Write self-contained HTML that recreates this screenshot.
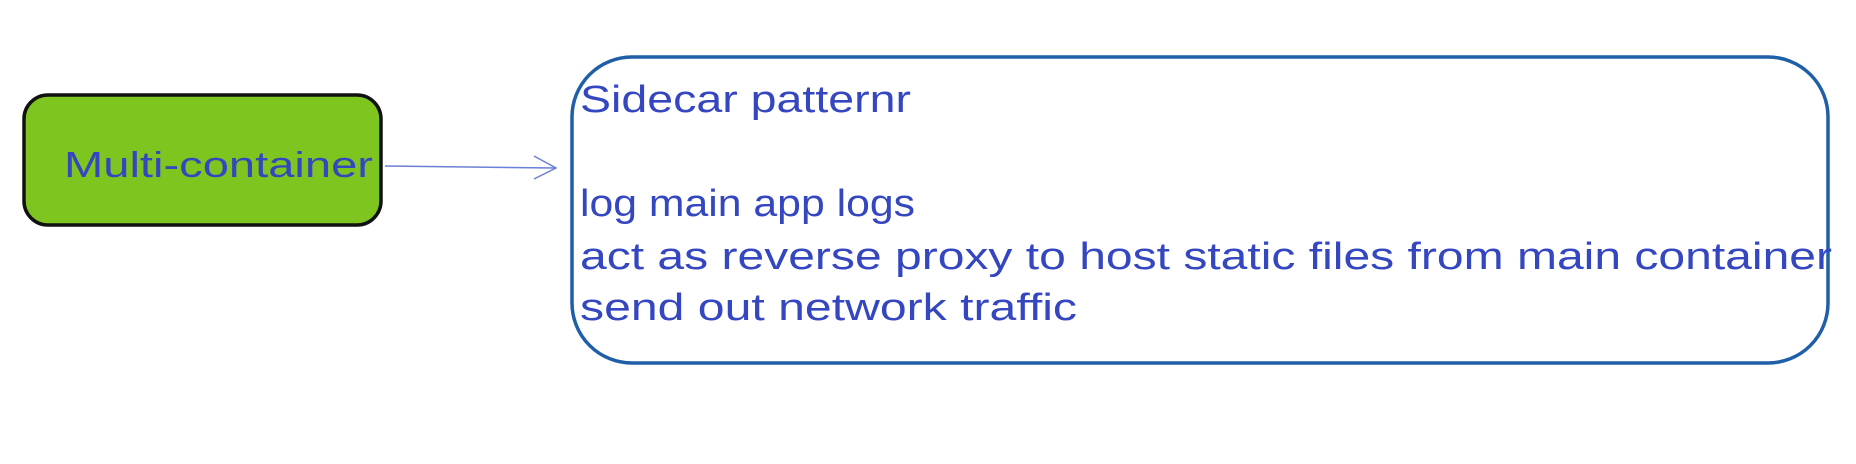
<!DOCTYPE html>
<html><head><style>
html,body{margin:0;padding:0;background:#fff;width:1856px;height:464px;overflow:hidden}
text{font-family:"Liberation Sans",sans-serif;fill:#3446c0}
</style></head><body>
<svg width="1856" height="464" viewBox="0 0 1856 464" xmlns="http://www.w3.org/2000/svg">
<rect x="24" y="95" width="357" height="130" rx="24" fill="#7ec61f" stroke="#111" stroke-width="3.5"/>
<text x="64" y="177" font-size="36" textLength="309" lengthAdjust="spacingAndGlyphs">Multi-container</text>
<line x1="385" y1="166" x2="556" y2="168" stroke="#6b7fd6" stroke-width="1.5"/>
<path d="M534 156 L556 168 L534 179" fill="none" stroke="#6b7fd6" stroke-width="1.5"/>
<rect x="572" y="57" width="1256" height="306" rx="60" fill="none" stroke="#1f5fa8" stroke-width="3.5"/>
<text x="580" y="112" font-size="38" textLength="331" lengthAdjust="spacingAndGlyphs">Sidecar patternr</text>
<text x="580" y="216" font-size="38" textLength="335" lengthAdjust="spacingAndGlyphs">log main app logs</text>
<text x="580" y="269" font-size="38" textLength="1252" lengthAdjust="spacingAndGlyphs">act as reverse proxy to host static files from main container</text>
<text x="580" y="320" font-size="38" textLength="497" lengthAdjust="spacingAndGlyphs">send out network traffic</text>
</svg>
</body></html>
